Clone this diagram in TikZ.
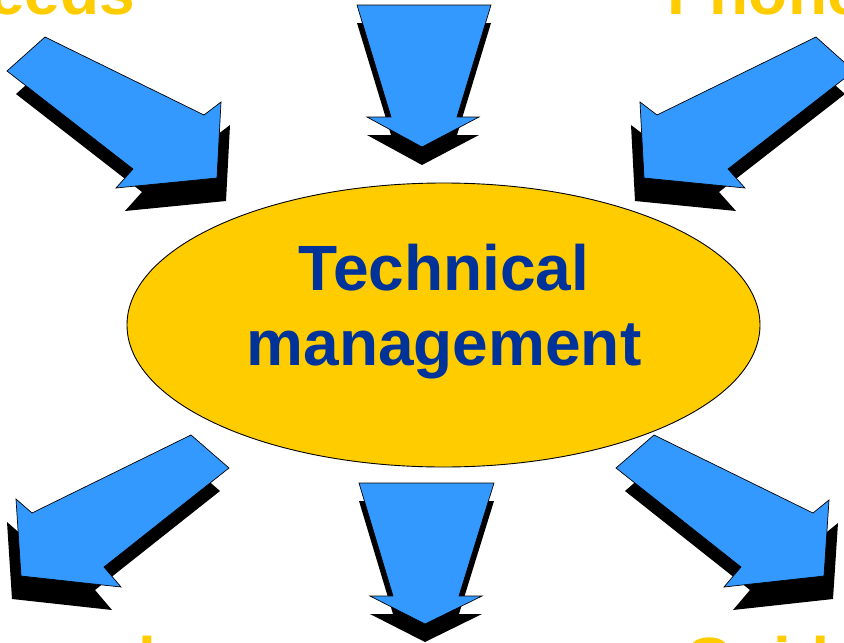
\documentclass[tikz,border=0pt]{standalone}
\usepackage{fontspec}
\setmainfont{Liberation Sans}
\usetikzlibrary{shapes.geometric}
\definecolor{arrblue}{HTML}{3399FF}
\definecolor{gold}{HTML}{FFCC00}
\definecolor{navy}{HTML}{003399}
\tikzset{
  arrowbody/.style={fill=arrblue, draw=black, line width=0.7pt, line join=miter},
  arrowshadow/.style={fill=black},
  lbl/.style={inner sep=0pt, text=gold, font=\fontsize{64}{70}\selectfont\bfseries},
  title/.style={inner sep=0pt, text=navy, font=\fontsize{64}{70}\selectfont\bfseries},
}
\begin{document}
\begin{tikzpicture}[x=1pt, y=-1pt]
\useasboundingbox (0,0) rectangle (844,643);
\fill[white] (0,0) rectangle (844,643);
\clip (0,0) rectangle (844,643);

% central ellipse
\node[ellipse, draw=black, line width=0.9pt, fill=gold, minimum width=633pt, minimum height=284pt, inner sep=0pt] (tm) at (443.5,325) {};
\node[title, anchor=base] (tmA) at (444,290) {Technical};
\node[title, anchor=base] (tmB) at (444,365) {management};

% top-left arrow
\def\arrTL{(45,37) -- (7,71) -- (133,169) -- (116,188) -- (217,178) -- (221,102) -- (204,115) -- cycle}
\begin{scope}[shift={(9,23)}]\fill[arrowshadow] \arrTL;\end{scope}
\path[arrowbody] \arrTL;

% top-middle arrow
\def\arrTM{(357,5) -- (491,5) -- (457,117) -- (479,117) -- (422,147) -- (367,117) -- (391,117) -- cycle}
\begin{scope}[shift={(0,18)}]\fill[arrowshadow] \arrTM;\end{scope}
\path[arrowbody] \arrTM;

% top-right arrow
\def\arrTR{(816,37) -- (854,71) -- (728,169) -- (745,188) -- (644,178) -- (640,102) -- (657,115) -- cycle}
\begin{scope}[shift={(-9,23)}]\fill[arrowshadow] \arrTR;\end{scope}
\path[arrowbody] \arrTR;

% bottom-left arrow
\def\arrBL{(191,435) -- (229,468) -- (104,567) -- (121,587) -- (21,576) -- (16,499) -- (32,513) -- cycle}
\begin{scope}[shift={(-9,23)}]\fill[arrowshadow] \arrBL;\end{scope}
\path[arrowbody] \arrBL;

% bottom-middle arrow
\def\arrBM{(359,483) -- (494,483) -- (459,596) -- (482,596) -- (425,624) -- (370,596) -- (393,596) -- cycle}
\begin{scope}[shift={(0,18)}]\fill[arrowshadow] \arrBM;\end{scope}
\path[arrowbody] \arrBM;

% bottom-right arrow
\def\arrBR{(654,435) -- (616,468) -- (741,567) -- (724,587) -- (824,576) -- (829,500) -- (813,513) -- cycle}
\begin{scope}[shift={(9,23)}]\fill[arrowshadow] \arrBR;\end{scope}
\path[arrowbody] \arrBR;

% clipped labels
\node[lbl, anchor=base west] (needs) at (-57,14) {Needs};
\node[lbl, anchor=base west] (phone) at (667,14) {Phone};
\node[lbl, anchor=base west] (pers) at (-153,682) {Personnel};
\node[lbl, anchor=base west] (guide) at (684,682) {Guide};
\end{tikzpicture}
\end{document}
